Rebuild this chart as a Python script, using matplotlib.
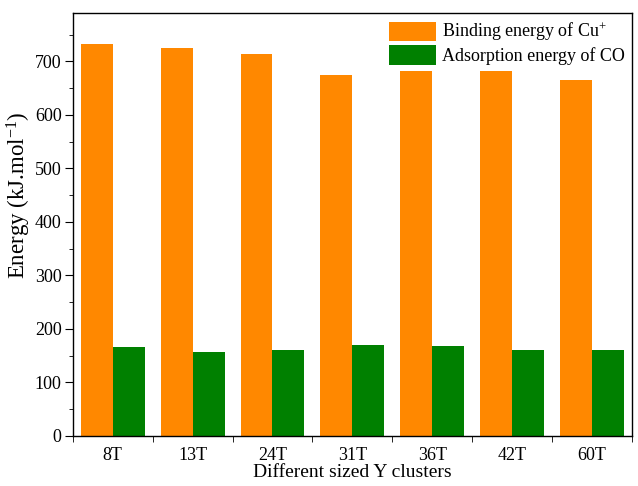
import matplotlib
matplotlib.use("Agg")
import matplotlib.pyplot as plt
import numpy as np
from matplotlib.ticker import MultipleLocator, FixedLocator

categories = ["8T", "13T", "24T", "31T", "36T", "42T", "60T"]
binding_cu = [732, 725, 714, 675, 682, 682, 666]
adsorption_co = [166, 156, 160, 170, 168, 160, 161]

plt.rcParams['font.family'] = ['Liberation Serif', 'DejaVu Serif']
plt.rcParams['mathtext.fontset'] = 'custom'
plt.rcParams['mathtext.rm'] = 'Liberation Serif'
plt.rcParams['mathtext.it'] = 'Liberation Serif:italic'

fig = plt.figure(figsize=(6.38, 4.86), dpi=100)
ax = fig.add_axes([0.114, 0.1035, 0.8766, 0.869])

x = np.arange(len(categories))
w = 0.4
ax.bar(x - w/2, binding_cu, w, color='#FF8800', label='Binding energy of Cu$^{+}$')
ax.bar(x + w/2, adsorption_co, w, color='#008000', label='Adsorption energy of CO')

ax.set_xlim(-0.5, len(categories) - 0.5)
ax.set_ylim(0, 790)
ax.set_xticks(x)
ax.set_xticklabels(categories, fontsize=13)
ax.xaxis.set_minor_locator(FixedLocator(np.arange(-0.5, len(categories), 1.0)))
ax.tick_params(axis='x', which='major', length=0, pad=8)
ax.tick_params(axis='x', which='minor', length=4, direction='out')
ax.yaxis.set_major_locator(MultipleLocator(100))
ax.yaxis.set_minor_locator(MultipleLocator(50))
ax.tick_params(axis='y', which='major', length=5.5, direction='out', labelsize=13, pad=2.5)
ax.tick_params(axis='y', which='minor', length=3, direction='out')

ax.set_xlabel('Different sized Y clusters', fontsize=14, labelpad=0)
ax.set_ylabel('Energy (kJ.mol$^{\\mathregular{-1}}$)', fontsize=16.5)
ax.yaxis.set_label_coords(-0.071, 0.57)

for s in ax.spines.values():
    s.set_linewidth(1.0)

ax.legend(loc='upper right', frameon=False, fontsize=13, handlelength=2.6,
          handleheight=1.25, labelspacing=0.12, handletextpad=0.35,
          borderaxespad=0.2, borderpad=0.2)

fig.savefig('out.png', dpi=100)
